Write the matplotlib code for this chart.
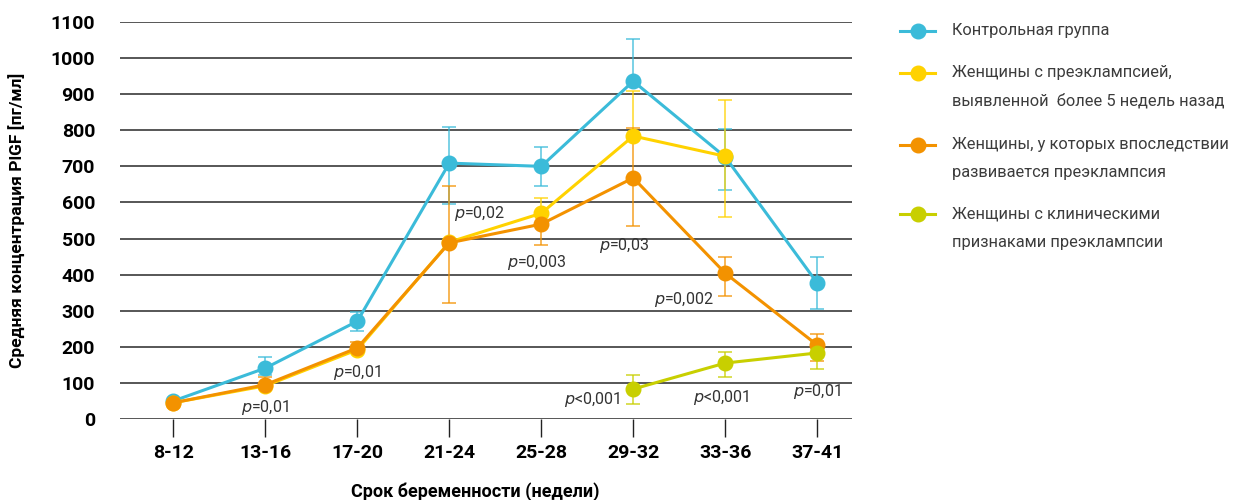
import numpy as np
import matplotlib
matplotlib.use('Agg')
from matplotlib import pyplot as plt
from matplotlib.lines import Line2D

weeks = ['8-12', '13-16', '17-20', '21-24', '25-28', '29-32', '33-36', '37-41']

control = [50, 141, 271, 709, 700, 936, 726, 377]
control_lo = [0, 20, 27, 113, 55, 0, 92, 72]
control_hi = [0, 31, 25, 100, 53, 117, 77, 72]

early = [45, 92, 192, 490, 570, 784, 728, np.nan]
early_lo = [0, 0, 0, 0, 0, 0, 168, 0]
early_hi = [0, 0, 0, 0, 42, 124, 156, 0]

later = [45, 95, 197, 488, 540, 668, 404, 205]
later_lo = [0, 0, 10, 167, 58, 133, 63, 45]
later_hi = [0, 20, 15, 157, 0, 139, 45, 30]

clinical = [np.nan, np.nan, np.nan, np.nan, np.nan, 83, 155, 183]
clinical_lo = [0, 0, 0, 0, 0, 41, 39, 45]
clinical_hi = [0, 0, 0, 0, 0, 39, 31, 30]

labels = ['Контрольная группа',
          'Женщины с преэклампсией,\nвыявленной  более 5 недель назад',
          'Женщины, у которых впоследствии\nразвивается преэклампсия',
          'Женщины с клиническими\nпризнаками преэклампсии']
colors = ['#3BBBD9', '#FFD200', '#F39200', '#C8CF00']

p_texts = ['=0,01', '=0,01', '=0,02', '=0,003', '=0,03', '=0,002', '<0,001', '<0,001', '=0,01']
p_x = [1.0, 2.0, 3.33, 3.95, 4.9, 5.55, 4.55, 5.95, 7.0]
p_y = [33, 128, 570, 435, 480, 330, 54, 60, 75]

plt.rcParams['font.family'] = ['Roboto', 'DejaVu Sans']

fig = plt.figure(figsize=(12.44, 5), dpi=100)
ax = fig.add_axes([0.0965, 0.162, 0.5885, 0.794])
x = np.arange(len(weeks))

series = [(control, control_lo, control_hi), (early, early_lo, early_hi),
          (later, later_lo, later_hi), (clinical, clinical_lo, clinical_hi)]
for (vals, lo, hi), c in zip(series, colors):
    ax.errorbar(x, vals, yerr=[lo, hi], fmt='none', ecolor=c, elinewidth=1.1,
                capsize=5, capthick=1.1, alpha=0.85, zorder=3, clip_on=False)
    ax.plot(x, vals, '-o', color=c, lw=2.2, ms=10.5, zorder=4, clip_on=False)

for t, px, py in zip(p_texts, p_x, p_y):
    ax.text(px, py, r'$\it{p}$' + t, fontsize=11.5, color='#333333', ha='center', va='center')

ax.set_xlim(-0.58, 7.38)
ax.set_ylim(0, 1100)
ax.set_yticks(range(0, 1101, 100))
ax.set_xticks(x)
ax.set_xticklabels(weeks)
ax.yaxis.grid(True, color='#3a3a3a', lw=1.2)
ax.set_axisbelow(True)
for s in ['top', 'right', 'left', 'bottom']:
    ax.spines[s].set_visible(False)
ax.tick_params(axis='y', length=0, pad=18, labelsize=14)
ax.tick_params(axis='x', length=13, width=1, color='#222222', pad=5, labelsize=14)
for lbl in ax.get_xticklabels() + ax.get_yticklabels():
    lbl.set_fontweight('bold')
ax.set_xlabel('Срок беременности (недели)', fontsize=13, fontweight='bold')
ax.xaxis.set_label_coords(0.485, -0.158)
ax.set_ylabel('Средняя концентрация PlGF [пг/мл]', fontsize=12.5, fontweight='bold', labelpad=18)

# legend drawn by hand to match the two-line layout
leg_y = [31, 73, 145, 214]
for lab, c, yy in zip(labels, colors, leg_y):
    yf = 1 - yy / 500
    fig.add_artist(Line2D([900 / 1244, 935 / 1244], [yf, yf], color=c, lw=2.2,
                          transform=fig.transFigure))
    fig.add_artist(Line2D([917.5 / 1244], [yf], marker='o', ms=10.5, color=c,
                          transform=fig.transFigure))
    for i, line in enumerate(lab.split('\n')):
        fig.text(952 / 1244, 1 - (yy + 28 * i) / 500, line, fontsize=11.8,
                 color='#3c3c3c', va='center', ha='left')

fig.savefig('out.png', dpi=100)
